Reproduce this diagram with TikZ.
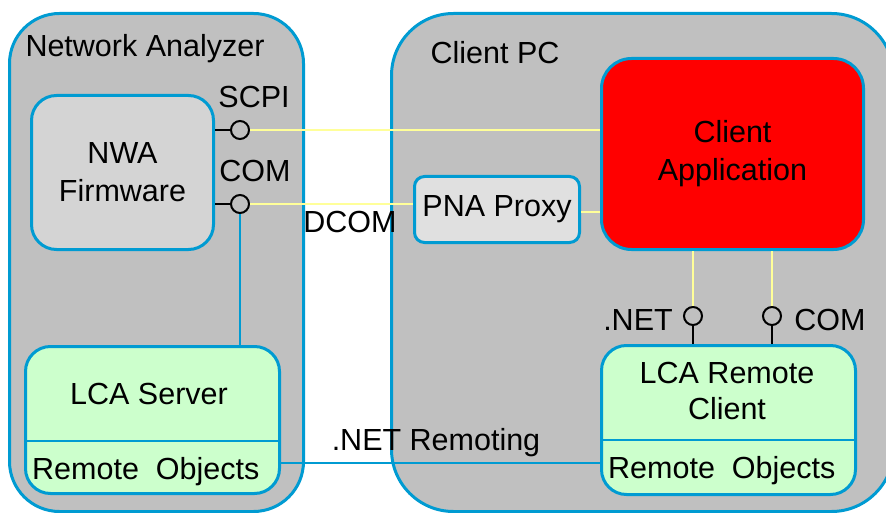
\documentclass[tikz,border=0pt]{standalone}
\usepackage{fontspec}
\setmainfont{Liberation Sans}
\definecolor{bl}{RGB}{0,155,210}
\definecolor{outergray}{RGB}{192,192,192}
\definecolor{nwagray}{RGB}{212,212,212}
\definecolor{proxygray}{RGB}{224,224,224}
\definecolor{lgreen}{RGB}{204,255,204}
\definecolor{yel}{RGB}{255,255,153}
\begin{document}
\begin{tikzpicture}[x=1pt,y=-1pt,
  font=\fontsize{30.5}{38}\selectfont,
  outer/.style={draw=bl, line width=3pt, fill=outergray, anchor=north west, inner sep=0pt},
  inbox/.style={draw=bl, line width=3pt, anchor=north west, align=center, inner sep=0pt},
  lbl/.style={inner sep=0pt, anchor=base},
  lolli/.style={circle, draw=black, line width=2pt, fill=outergray, minimum size=18pt, inner sep=0pt},
  stem/.style={draw=black, line width=2pt},
  yelline/.style={draw=yel, line width=2.5pt},
  bluline/.style={draw=bl, line width=2.5pt}]
\useasboundingbox (0,0) rectangle (886,513);
% containers
\node[outer, rounded corners=50pt, minimum width=294pt, minimum height=498pt] (na) at (8,12) {};
\node[outer, rounded corners=62pt, minimum width=502pt, minimum height=498pt] (pc) at (390,12) {};
\node[lbl] (natitle) at (145,57) {Network Analyzer};
\node[lbl] (pctitle) at (495,64) {Client PC};
% inner boxes
\node[inbox, fill=nwagray, rounded corners=25pt, minimum width=182pt, minimum height=154pt] (nwa) at (30,94) {NWA\\Firmware};
\node[inbox, fill=proxygray, rounded corners=10pt, minimum width=165pt, minimum height=66pt] (proxy) at (413,175) {PNA Proxy};
\node[inbox, fill=red, rounded corners=30pt, minimum width=262pt, minimum height=191pt] (app) at (600,57) {Client\\Application};
\node[inbox, fill=lgreen, rounded corners=25pt, minimum width=254pt, minimum height=147pt] (server) at (24,345) {};
\node[inbox, fill=lgreen, rounded corners=25pt, minimum width=254pt, minimum height=149pt] (remote) at (600,344) {};
\coordinate (sdiv) at (0,441);
\coordinate (rdiv) at (0,440);
\draw[bluline] (server.west |- sdiv) -- (server.east |- sdiv);
\draw[bluline] (remote.west |- rdiv) -- (remote.east |- rdiv);
\node[lbl] (servertext) at (149,404) {LCA Server};
\node[lbl] (remotetext) at (727,383) {LCA Remote};
\node[lbl] (remotetext2) at (727,419) {Client};
\node[lbl, anchor=base west] (sobj) at (32,479) {Remote\ \ Objects};
\node[lbl, anchor=base west] (robj) at (608,478) {Remote\ \ Objects};
% lollipops
\node[lolli] (scpi) at (240,130) {};
\node[lolli] (com1) at (240,204) {};
\node[lolli] (net) at (693,316) {};
\node[lolli] (com2) at (772,316) {};
\node[lbl] (scpilbl) at (254,108) {SCPI};
\node[lbl] (com1lbl) at (255,182) {COM};
\node[lbl] (dcomlbl) at (350,233) {DCOM};
\node[lbl] (netlbl) at (638,330) {.NET};
\node[lbl] (com2lbl) at (830,330) {COM};
\node[lbl] (remlbl) at (436,450) {.NET Remoting};
% connectors
\draw[stem] (scpi -| nwa.east) -- (scpi.west);
\draw[stem] (com1 -| nwa.east) -- (com1.west);
\draw[yelline] (scpi.east) -- (scpi -| app.west);
\draw[yelline] (com1.east) -- (com1 -| proxy.west);
\coordinate (pxl) at (0,212);
\draw[yelline] (proxy.east |- pxl) -- (app.west |- pxl);
\draw[bluline] (com1.south) -- (com1 |- server.north);
\draw[yelline] (net |- app.south) -- (net.north);
\draw[yelline] (com2 |- app.south) -- (com2.north);
\draw[stem] (net.south) -- (net |- remote.north);
\draw[stem] (com2.south) -- (com2 |- remote.north);
\coordinate (rl) at (0,463);
\draw[bluline] (rl -| server.east) -- (rl -| remote.west);
\end{tikzpicture}
\end{document}
